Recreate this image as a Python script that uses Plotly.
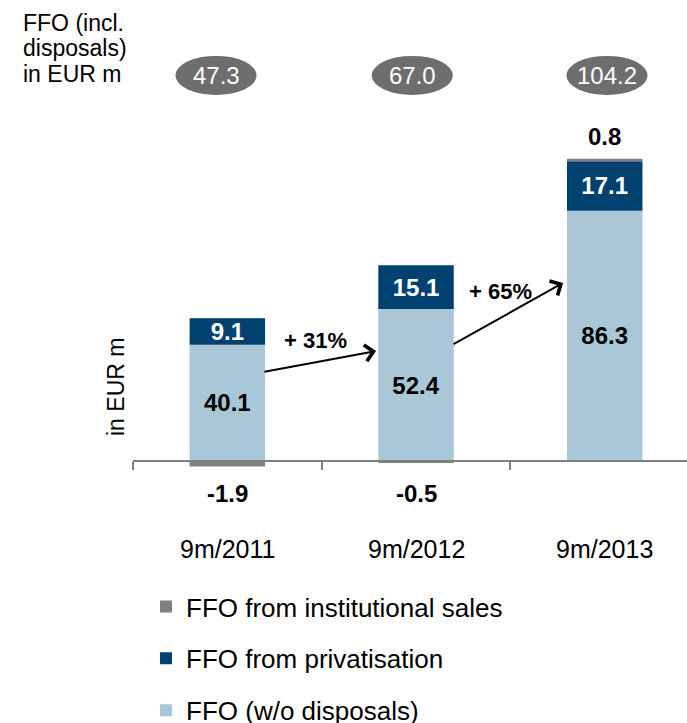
import plotly.graph_objects as go

categories = ["9m/2011", "9m/2012", "9m/2013"]
ffo_wo_disposals = [40.1, 52.4, 86.3]
ffo_privatisation = [9.1, 15.1, 17.1]
ffo_institutional = [-1.9, -0.5, 0.8]
ffo_incl_disposals = [47.3, 67.0, 104.2]
growth_labels = ["+ 31%", "+ 65%"]

FONT = "Liberation Sans, Arial, sans-serif"
LIGHT = "#A9C7D6"
DARK = "#00416F"
GREY = "#808080"

fig = go.Figure()
fig.add_trace(go.Bar(
    x=categories, y=ffo_wo_disposals, name="FFO (w/o disposals)",
    marker=dict(color=LIGHT, line=dict(width=0)), legendgroup="c", legendrank=3,
    texttemplate="<b>%{y:.1f}</b>", textposition="inside", insidetextanchor="middle",
    textangle=0, constraintext="none",
    textfont=dict(family=FONT, size=24, color="black"),
))
fig.add_trace(go.Bar(
    x=categories, y=ffo_privatisation, name="FFO from privatisation",
    marker=dict(color=DARK, line=dict(width=0)), legendgroup="b", legendrank=2,
    texttemplate="<b>%{y:.1f}</b>", textposition="inside", insidetextanchor="middle",
    textangle=0, constraintext="none",
    textfont=dict(family=FONT, size=24, color="white"),
))
fig.add_trace(go.Bar(
    x=categories, y=ffo_institutional, name="FFO from institutional sales",
    marker=dict(color=GREY, line=dict(width=0)), legendgroup="a", legendrank=1,
    textposition="none",
))

# labels for institutional sales
for i, v in enumerate(ffo_institutional):
    if v < 0:
        y, shift = 0, -32
    else:
        y, shift = ffo_wo_disposals[i] + ffo_privatisation[i] + v, 22
    fig.add_annotation(x=i, y=y, yshift=shift, text=f"<b>{v:.1f}</b>", showarrow=False,
                       font=dict(family=FONT, size=24, color="black"),
                       xref="x", yref="y", yanchor="middle")

# ellipses with totals
offs = [-0.06, -0.02, 0.012]
for i, t in enumerate(ffo_incl_disposals):
    cx = i + offs[i]
    fig.add_shape(type="circle", xref="x", yref="y", x0=cx - 0.215, x1=cx + 0.215,
                  y0=126.2, y1=139.7, fillcolor="#6E6E6E", line=dict(width=0))
    fig.add_annotation(x=cx, y=132.95, text=f"{t:.1f}", showarrow=False,
                       font=dict(family=FONT, size=24, color="white"), xref="x", yref="y")

# growth arrows
arrows = [((0.189, 30.7), (0.788, 37.9)), ((1.191, 40.0), (1.779, 61.4))]
label_pos = [(0.465, 41.4), (1.45, 58.3)]
for (tail, tip), lp, g in zip(arrows, label_pos, growth_labels):
    fig.add_annotation(x=tip[0], y=tip[1], ax=tail[0], ay=tail[1], xref="x", yref="y",
                       axref="x", ayref="y", text="", showarrow=True, arrowhead=4,
                       arrowwidth=2, arrowsize=1.6, arrowcolor="black", standoff=0)
    fig.add_annotation(x=lp[0], y=lp[1], text=f"<b>{g}</b>", showarrow=False,
                       font=dict(family=FONT, size=22, color="black"), xref="x", yref="y")

# category labels
for i, c in enumerate(categories):
    fig.add_annotation(x=i, y=-0.1, xref="x", yref="paper", text=c, showarrow=False,
                       font=dict(family=FONT, size=25, color="black"),
                       xanchor="center", yanchor="middle")

# axis title
fig.add_annotation(x=-0.0307, y=0.2306, xref="paper", yref="paper", text="in EUR m",
                   textangle=-90, showarrow=False, xanchor="center", yanchor="middle",
                   font=dict(family=FONT, size=23, color="black"))

# top-left header
for txt, yy in zip(["FFO (incl.", "disposals)", "in EUR m"], [0.9735, 0.922, 0.87]):
    fig.add_annotation(x=-0.2022, y=yy, xref="paper", yref="paper", text=txt, showarrow=False,
                       xanchor="left", yanchor="middle",
                       font=dict(family=FONT, size=23, color="black"))

fig.update_layout(
    width=687, height=723,
    margin=dict(l=133, r=0, t=10, b=223, autoexpand=False),
    barmode="relative", bargap=0.6,
    paper_bgcolor="white", plot_bgcolor="white",
    font=dict(family=FONT, color="black"),
    showlegend=True,
    legend=dict(x=0.0235, y=-0.1697, xanchor="left", yanchor="top",
                traceorder="grouped", tracegroupgap=15,
                font=dict(family=FONT, size=26, color="black"),
                bgcolor="rgba(0,0,0,0)"),
    xaxis=dict(type="category", range=[-0.5, 2.436], anchor="free", position=0.0796,
               showline=True, linecolor=GREY, linewidth=1.5, ticks="outside",
               tickson="boundaries", ticklen=8, tickwidth=1.5, tickcolor=GREY,
               showticklabels=False, showgrid=False, zeroline=False, fixedrange=True),
    yaxis=dict(range=[-13.448, 155.52], visible=False, showgrid=False, zeroline=False,
               fixedrange=True),
)

fig.write_html("out.html", config={"displayModeBar": False},
               post_script="document.body.style.margin='0';document.body.style.overflow='hidden';")
